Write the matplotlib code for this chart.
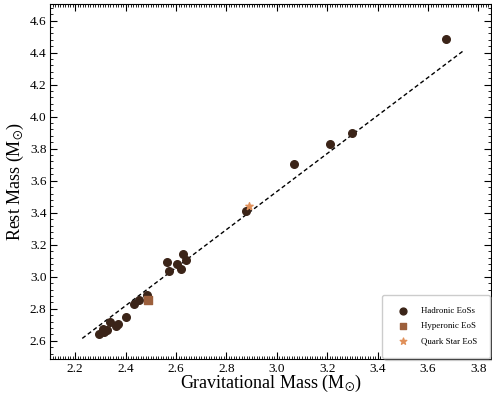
import numpy as np
import matplotlib
matplotlib.use("Agg")
from matplotlib import pyplot as plt
from matplotlib.ticker import MultipleLocator

plt.rcParams["font.family"] = ["Liberation Serif", "DejaVu Serif"]
plt.rcParams["mathtext.fontset"] = "stix"

# Data
hadronic_m = [3.673, 3.299, 3.210, 3.067, 2.878, 2.626, 2.640, 2.565, 2.603,
              2.620, 2.574, 2.484, 2.454, 2.434, 2.403, 2.338, 2.371, 2.361,
              2.309, 2.325, 2.316, 2.295]
hadronic_mb = [4.486, 3.898, 3.827, 3.706, 3.413, 3.140, 3.106, 3.090, 3.077,
               3.050, 3.034, 2.887, 2.854, 2.829, 2.750, 2.715, 2.704, 2.690,
               2.671, 2.667, 2.656, 2.640]
hyperonic_m = [2.489]
hyperonic_mb = [2.854]
quark_m = [2.888]
quark_mb = [3.444]
fit_m = [2.228, 3.740]
fit_mb = [2.615, 4.411]

c_had = "#3b2418"
c_hyp = "#9c5f3c"
c_qs = "#e0905a"

fig = plt.figure(figsize=(4.92, 3.95), dpi=100)
ax = fig.add_axes([0.1016, 0.091, 0.8964, 0.899])

ax.plot(fit_m, fit_mb, "k--", lw=1.0, dashes=(3, 2))
ax.scatter(hadronic_m, hadronic_mb, s=30, color=c_had, label="Hadronic EoSs", zorder=3)
ax.scatter(hyperonic_m, hyperonic_mb, s=30, marker="s", color=c_hyp, label="Hyperonic EoS", zorder=3)
ax.scatter(quark_m, quark_mb, s=30, marker="*", color=c_qs, label="Quark Star EoS", zorder=3)

ax.set_xlim(2.1, 3.85)
ax.set_ylim(2.486, 4.704)
ax.xaxis.set_major_locator(MultipleLocator(0.2))
ax.xaxis.set_minor_locator(MultipleLocator(0.01))
ax.yaxis.set_major_locator(MultipleLocator(0.2))
ax.yaxis.set_minor_locator(MultipleLocator(0.04))
ax.tick_params(which="both", direction="in", top=True, right=True, labelsize=9.5)
ax.tick_params(which="major", length=5, pad=2.5)
ax.tick_params(which="minor", length=2.5)

ax.set_xlabel(r"Gravitational Mass (M$_{\odot}$)", fontsize=13, labelpad=-1)
ax.set_ylabel(r"Rest Mass (M$_{\odot}$)", fontsize=13, labelpad=3)

ax.legend(loc="lower right", fontsize=6.4, shadow={"color": "0.5", "alpha": 0.25},
          borderpad=1.4, handletextpad=1.0, labelspacing=0.75, markerscale=0.9,
          edgecolor="0.8", borderaxespad=0.15)

fig.savefig("out.png", dpi=100)
